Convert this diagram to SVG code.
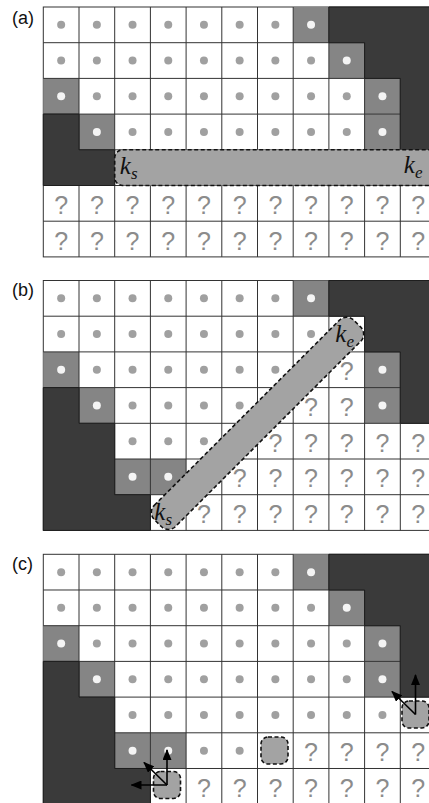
<svg xmlns="http://www.w3.org/2000/svg" xmlns:xlink="http://www.w3.org/1999/xlink" width="429" height="803" viewBox="0 0 429 803">
<style>
.bg{fill:#fff;stroke:#333;stroke-width:1}
.mid{fill:#858585}
.grid{fill:none;stroke:#333;stroke-width:1}
.dark{fill:#3a3a3a;stroke:#1e1e1e;stroke-width:1}
.q{font-family:"Liberation Sans",Arial,sans-serif;font-size:25px;fill:#8c8c8c;text-anchor:middle}
.dash{fill:#a3a3a3;stroke:#111;stroke-width:1.6;stroke-dasharray:4 2.5}
.k{font-family:"Liberation Serif","Times New Roman",serif;font-style:italic;font-size:25px;fill:#111}
.sub{font-size:17px}
.lbl{font-family:"Liberation Sans",Arial,sans-serif;font-size:18px;fill:#111}
.arr{stroke:#000;stroke-width:1.6;fill:none;marker-end:url(#ah)}
</style>
<defs>
<circle id="d" r="4" fill="#a0a0a0"/>
<circle id="w" r="4" fill="#f4f4f4"/>
<path id="grid" class="grid" d="M35.7,0V249.9M71.4,0V249.9M107.1,0V249.9M142.8,0V249.9M178.5,0V249.9M214.2,0V249.9M249.9,0V249.9M285.6,0V249.9M321.3,0V249.9M357,0V249.9M0,35.7H392.7M0,71.4H392.7M0,107.1H392.7M0,142.8H392.7M0,178.5H392.7M0,214.2H392.7"/>
<path id="darkR" class="dark" d="M285.6,0H392.7V142.8H357V71.4H321.3V35.7H285.6Z"/>
<path id="darkL" class="dark" d="M0,107.1H35.7V142.8H71.4V214.2H107.1V249.9H0Z"/>
<marker id="ah" markerUnits="userSpaceOnUse" markerWidth="11" markerHeight="9" refX="10" refY="4.5" orient="auto">
<path d="M0,0L11,4.5L0,9Z" fill="#000"/>
</marker>
</defs>
<rect width="429" height="803" fill="#fff"/>

<text class="lbl" x="12" y="24">(a)</text>
<text class="lbl" x="12" y="296">(b)</text>
<text class="lbl" x="12" y="570">(c)</text>

<g id="panel-a" transform="translate(43.3,7)">
<rect class="bg" x="0" y="0" width="392.7" height="249.9"/>
<rect class="mid" x="249.9" y="0" width="35.7" height="35.7"/>
<rect class="mid" x="285.6" y="35.7" width="35.7" height="35.7"/>
<rect class="mid" x="0" y="71.4" width="35.7" height="35.7"/>
<rect class="mid" x="321.3" y="71.4" width="35.7" height="35.7"/>
<rect class="mid" x="35.7" y="107.1" width="35.7" height="35.7"/>
<rect class="mid" x="321.3" y="107.1" width="35.7" height="35.7"/>
<use href="#grid"/>
<use href="#darkR"/>
<path class="dark" d="M0,107.1H35.7V142.8H71.4V178.5H0Z"/>
<g id="a-dots">
<use href="#d" x="17.85" y="17.85"/><use href="#d" x="53.55" y="17.85"/><use href="#d" x="89.25" y="17.85"/><use href="#d" x="124.95" y="17.85"/><use href="#d" x="160.65" y="17.85"/><use href="#d" x="196.35" y="17.85"/><use href="#d" x="232.05" y="17.85"/>
<use href="#d" x="17.85" y="53.55"/><use href="#d" x="53.55" y="53.55"/><use href="#d" x="89.25" y="53.55"/><use href="#d" x="124.95" y="53.55"/><use href="#d" x="160.65" y="53.55"/><use href="#d" x="196.35" y="53.55"/><use href="#d" x="232.05" y="53.55"/><use href="#d" x="267.75" y="53.55"/>
<use href="#d" x="53.55" y="89.25"/><use href="#d" x="89.25" y="89.25"/><use href="#d" x="124.95" y="89.25"/><use href="#d" x="160.65" y="89.25"/><use href="#d" x="196.35" y="89.25"/><use href="#d" x="232.05" y="89.25"/><use href="#d" x="267.75" y="89.25"/><use href="#d" x="303.45" y="89.25"/>
<use href="#d" x="89.25" y="124.95"/><use href="#d" x="124.95" y="124.95"/><use href="#d" x="160.65" y="124.95"/><use href="#d" x="196.35" y="124.95"/><use href="#d" x="232.05" y="124.95"/><use href="#d" x="267.75" y="124.95"/><use href="#d" x="303.45" y="124.95"/>
<use href="#w" x="267.75" y="17.85"/><use href="#w" x="303.45" y="53.55"/><use href="#w" x="17.85" y="89.25"/><use href="#w" x="339.15" y="89.25"/><use href="#w" x="53.55" y="124.95"/><use href="#w" x="339.15" y="124.95"/>
</g>
<g id="a-unknown">
<text class="q" x="17.85" y="206.8">?</text><text class="q" x="53.55" y="206.8">?</text><text class="q" x="89.25" y="206.8">?</text><text class="q" x="124.95" y="206.8">?</text><text class="q" x="160.65" y="206.8">?</text><text class="q" x="196.35" y="206.8">?</text><text class="q" x="232.05" y="206.8">?</text><text class="q" x="267.75" y="206.8">?</text><text class="q" x="303.45" y="206.8">?</text><text class="q" x="339.15" y="206.8">?</text><text class="q" x="374.85" y="206.8">?</text>
<text class="q" x="17.85" y="242.5">?</text><text class="q" x="53.55" y="242.5">?</text><text class="q" x="89.25" y="242.5">?</text><text class="q" x="124.95" y="242.5">?</text><text class="q" x="160.65" y="242.5">?</text><text class="q" x="196.35" y="242.5">?</text><text class="q" x="232.05" y="242.5">?</text><text class="q" x="267.75" y="242.5">?</text><text class="q" x="303.45" y="242.5">?</text><text class="q" x="339.15" y="242.5">?</text><text class="q" x="374.85" y="242.5">?</text>
</g>
<g id="a-segment">
<rect class="dash" x="71.4" y="142.8" width="345" height="35.7" rx="8"/>
<text class="k" x="76.5" y="166.5">k<tspan class="sub" dy="5">s</tspan></text>
<text class="k" x="360.5" y="165.5">k<tspan class="sub" dy="5">e</tspan></text>
</g>
</g>

<g id="panel-b" transform="translate(43.3,280.5)">
<rect class="bg" x="0" y="0" width="392.7" height="249.9"/>
<rect class="mid" x="249.9" y="0" width="35.7" height="35.7"/>
<rect class="mid" x="0" y="71.4" width="35.7" height="35.7"/>
<rect class="mid" x="321.3" y="71.4" width="35.7" height="35.7"/>
<rect class="mid" x="35.7" y="107.1" width="35.7" height="35.7"/>
<rect class="mid" x="321.3" y="107.1" width="35.7" height="35.7"/>
<rect class="mid" x="71.4" y="178.5" width="35.7" height="35.7"/>
<rect class="mid" x="107.1" y="178.5" width="35.7" height="35.7"/>
<use href="#grid"/>
<use href="#darkR"/>
<use href="#darkL"/>
<g id="b-dots">
<use href="#d" x="17.85" y="17.85"/><use href="#d" x="53.55" y="17.85"/><use href="#d" x="89.25" y="17.85"/><use href="#d" x="124.95" y="17.85"/><use href="#d" x="160.65" y="17.85"/><use href="#d" x="196.35" y="17.85"/><use href="#d" x="232.05" y="17.85"/>
<use href="#d" x="17.85" y="53.55"/><use href="#d" x="53.55" y="53.55"/><use href="#d" x="89.25" y="53.55"/><use href="#d" x="124.95" y="53.55"/><use href="#d" x="160.65" y="53.55"/><use href="#d" x="196.35" y="53.55"/><use href="#d" x="232.05" y="53.55"/><use href="#d" x="267.75" y="53.55"/>
<use href="#d" x="53.55" y="89.25"/><use href="#d" x="89.25" y="89.25"/><use href="#d" x="124.95" y="89.25"/><use href="#d" x="160.65" y="89.25"/><use href="#d" x="196.35" y="89.25"/><use href="#d" x="232.05" y="89.25"/>
<use href="#d" x="89.25" y="124.95"/><use href="#d" x="124.95" y="124.95"/><use href="#d" x="160.65" y="124.95"/><use href="#d" x="196.35" y="124.95"/>
<use href="#d" x="89.25" y="160.65"/><use href="#d" x="124.95" y="160.65"/><use href="#d" x="160.65" y="160.65"/>
<use href="#w" x="267.75" y="17.85"/><use href="#w" x="17.85" y="89.25"/><use href="#w" x="339.15" y="89.25"/><use href="#w" x="53.55" y="124.95"/><use href="#w" x="339.15" y="124.95"/><use href="#w" x="89.25" y="196.35"/><use href="#w" x="124.95" y="196.35"/>
</g>
<g id="b-unknown">
<text class="q" x="303.45" y="99.7">?</text>
<text class="q" x="267.75" y="135.4">?</text><text class="q" x="303.45" y="135.4">?</text>
<text class="q" x="232.05" y="171.1">?</text><text class="q" x="267.75" y="171.1">?</text><text class="q" x="303.45" y="171.1">?</text><text class="q" x="339.15" y="171.1">?</text><text class="q" x="374.85" y="171.1">?</text>
<text class="q" x="196.35" y="206.8">?</text><text class="q" x="232.05" y="206.8">?</text><text class="q" x="267.75" y="206.8">?</text><text class="q" x="303.45" y="206.8">?</text><text class="q" x="339.15" y="206.8">?</text><text class="q" x="374.85" y="206.8">?</text>
<text class="q" x="160.65" y="242.5">?</text><text class="q" x="196.35" y="242.5">?</text><text class="q" x="232.05" y="242.5">?</text><text class="q" x="267.75" y="242.5">?</text><text class="q" x="303.45" y="242.5">?</text><text class="q" x="339.15" y="242.5">?</text><text class="q" x="374.85" y="242.5">?</text>
</g>
<g id="b-segment">
<rect class="dash" x="-141" y="-15" width="282" height="30" rx="10" transform="translate(214.2,142.8) rotate(-45)"/>
<text class="k" x="111" y="239">k<tspan class="sub" dy="5">s</tspan></text>
<text class="k" x="292" y="61.5">k<tspan class="sub" dy="5">e</tspan></text>
</g>
</g>

<g id="panel-c" transform="translate(43.3,554.3)">
<rect class="bg" x="0" y="0" width="392.7" height="249.9"/>
<rect class="mid" x="249.9" y="0" width="35.7" height="35.7"/>
<rect class="mid" x="285.6" y="35.7" width="35.7" height="35.7"/>
<rect class="mid" x="0" y="71.4" width="35.7" height="35.7"/>
<rect class="mid" x="321.3" y="71.4" width="35.7" height="35.7"/>
<rect class="mid" x="35.7" y="107.1" width="35.7" height="35.7"/>
<rect class="mid" x="321.3" y="107.1" width="35.7" height="35.7"/>
<rect class="mid" x="71.4" y="178.5" width="35.7" height="35.7"/>
<rect class="mid" x="107.1" y="178.5" width="35.7" height="35.7"/>
<use href="#grid"/>
<use href="#darkR"/>
<use href="#darkL"/>
<g id="c-dots">
<use href="#d" x="17.85" y="17.85"/><use href="#d" x="53.55" y="17.85"/><use href="#d" x="89.25" y="17.85"/><use href="#d" x="124.95" y="17.85"/><use href="#d" x="160.65" y="17.85"/><use href="#d" x="196.35" y="17.85"/><use href="#d" x="232.05" y="17.85"/>
<use href="#d" x="17.85" y="53.55"/><use href="#d" x="53.55" y="53.55"/><use href="#d" x="89.25" y="53.55"/><use href="#d" x="124.95" y="53.55"/><use href="#d" x="160.65" y="53.55"/><use href="#d" x="196.35" y="53.55"/><use href="#d" x="232.05" y="53.55"/><use href="#d" x="267.75" y="53.55"/>
<use href="#d" x="53.55" y="89.25"/><use href="#d" x="89.25" y="89.25"/><use href="#d" x="124.95" y="89.25"/><use href="#d" x="160.65" y="89.25"/><use href="#d" x="196.35" y="89.25"/><use href="#d" x="232.05" y="89.25"/><use href="#d" x="267.75" y="89.25"/><use href="#d" x="303.45" y="89.25"/>
<use href="#d" x="89.25" y="124.95"/><use href="#d" x="124.95" y="124.95"/><use href="#d" x="160.65" y="124.95"/><use href="#d" x="196.35" y="124.95"/><use href="#d" x="232.05" y="124.95"/><use href="#d" x="267.75" y="124.95"/><use href="#d" x="303.45" y="124.95"/>
<use href="#d" x="89.25" y="160.65"/><use href="#d" x="124.95" y="160.65"/><use href="#d" x="160.65" y="160.65"/><use href="#d" x="196.35" y="160.65"/><use href="#d" x="232.05" y="160.65"/><use href="#d" x="267.75" y="160.65"/><use href="#d" x="303.45" y="160.65"/><use href="#d" x="339.15" y="160.65"/>
<use href="#d" x="160.65" y="196.35"/><use href="#d" x="196.35" y="196.35"/>
<use href="#w" x="267.75" y="17.85"/><use href="#w" x="303.45" y="53.55"/><use href="#w" x="17.85" y="89.25"/><use href="#w" x="339.15" y="89.25"/><use href="#w" x="53.55" y="124.95"/><use href="#w" x="339.15" y="124.95"/><use href="#w" x="89.25" y="196.35"/><use href="#w" x="124.95" y="196.35"/>
</g>
<g id="c-unknown">
<text class="q" x="267.75" y="206.8">?</text><text class="q" x="303.45" y="206.8">?</text><text class="q" x="339.15" y="206.8">?</text><text class="q" x="374.85" y="206.8">?</text>
<text class="q" x="160.65" y="242.5">?</text><text class="q" x="196.35" y="242.5">?</text><text class="q" x="232.05" y="242.5">?</text><text class="q" x="267.75" y="242.5">?</text><text class="q" x="303.45" y="242.5">?</text><text class="q" x="339.15" y="242.5">?</text><text class="q" x="374.85" y="242.5">?</text>
</g>
</g>

<g id="c-cand-1"><rect class="dash" x="153.5" y="771.5" width="27" height="27" rx="7"/></g>
<g id="c-cand-2"><rect class="dash" x="261" y="737" width="27" height="27" rx="7"/></g>
<g id="c-cand-3"><rect class="dash" x="402" y="701" width="27" height="27" rx="7"/></g>

<g id="connectors">
<line class="arr" x1="167" y1="785" x2="167" y2="750"/>
<line class="arr" x1="167" y1="785" x2="131.5" y2="785"/>
<line class="arr" x1="167" y1="785" x2="144" y2="762.5"/>
<line class="arr" x1="415.5" y1="714.5" x2="415.5" y2="675"/>
<line class="arr" x1="415.5" y1="714.5" x2="392" y2="691.5"/>
</g>
</svg>
